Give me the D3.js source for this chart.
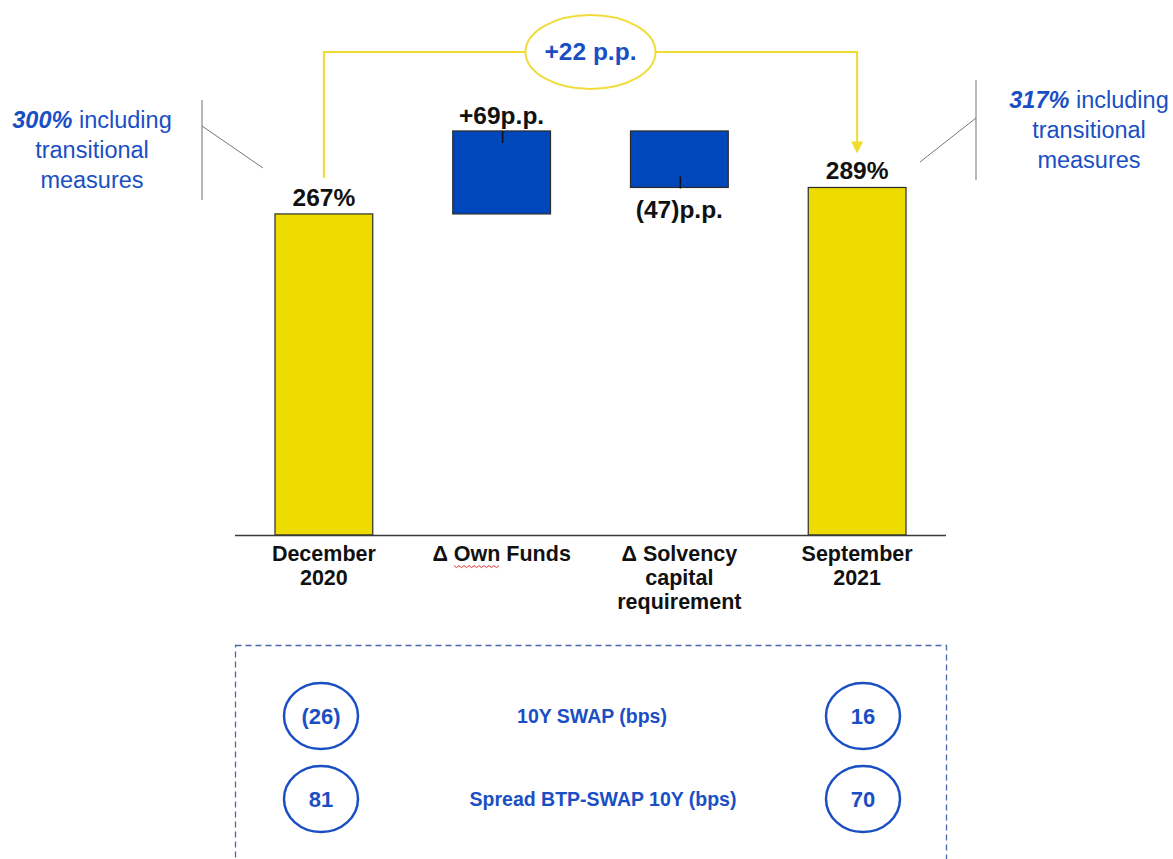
<!DOCTYPE html>
<html><head><meta charset="utf-8">
<script src="https://cdn.jsdelivr.net/npm/d3@7"></script>
<style>body{margin:0;background:#fff}svg{display:block}</style>
</head><body>
<script>
// ---- data ----
const categories = [["December","2020"],["\u0394 Own Funds"],["\u0394 Solvency","capital","requirement"],["September","2021"]];
const values = [267, 69, -47, 289];
const kinds = ["total","delta","delta","total"];
const barLabels = ["267%","+69p.p.","(47)p.p.","289%"];
const changeLabel = "+22 p.p.";
const leftNote = {bold:"300%", rest:" including", lines:["transitional","measures"]};
const rightNote = {bold:"317%", rest:" including", lines:["transitional","measures"]};
const marketRows = ["10Y SWAP (bps)","Spread BTP-SWAP 10Y (bps)"];
const marketStart = ["(26)","81"];
const marketEnd = ["16","70"];

const W=1173,H=859;
const BLUE_TXT="#1a4fc4", YELLOW="#eedc00", BAR_BLUE="#0047bb";
const FONT="Liberation Sans, Arial, sans-serif";
const svg=d3.select("body").append("svg").attr("width",W).attr("height",H);

const x=d3.scaleBand().domain(d3.range(categories.length)).range([235,946]).paddingInner(0.45).paddingOuter(0.225);
const y=d3.scaleLinear().domain([0,400]).range([535,54]);

// waterfall
let run=0;
const bars=values.map((v,i)=>{
  let a,b;
  if(kinds[i]==="total"){a=0;b=v;run=v;}
  else {a=run;b=run+v;run=b;}
  return {i,v,lo:Math.min(a,b),hi:Math.max(a,b),kind:kinds[i]};
});

svg.selectAll("rect.bar").data(bars).join("rect").attr("class","bar")
  .attr("x",d=>x(d.i)).attr("width",x.bandwidth())
  .attr("y",d=>y(d.hi)).attr("height",d=>y(d.lo)-y(d.hi))
  .attr("fill",d=>d.kind==="total"?YELLOW:BAR_BLUE)
  .attr("stroke","#2b2b2b").attr("stroke-width",1.2);

// baseline
svg.append("line").attr("x1",235).attr("x2",946).attr("y1",y(0)+0.5).attr("y2",y(0)+0.5)
  .attr("stroke","#3a3a3a").attr("stroke-width",1.5);

// bar labels
const cx=i=>x(i)+x.bandwidth()/2;
bars.forEach(d=>{
  let ty, tick=null;
  if(d.kind==="total"){ty=y(d.hi)-8;}
  else if(d.v>0){ty=y(d.hi)-7; tick=[y(d.hi),y(d.hi)+12];}
  else {ty=y(d.lo)+31; tick=[y(d.lo)-11,y(d.lo)+1];}
  svg.append("text").attr("x",cx(d.i)).attr("y",ty).attr("text-anchor","middle")
    .attr("font-family",FONT).attr("font-weight","bold").attr("font-size",24.5)
    .attr("fill","#111").text(barLabels[d.i]);
  if(tick) svg.append("line").attr("x1",cx(d.i)+1).attr("x2",cx(d.i)+1).attr("y1",tick[0]).attr("y2",tick[1])
    .attr("stroke","#111").attr("stroke-width",1.5);
});

// category labels
categories.forEach((lines,i)=>{
  const t=svg.append("text").attr("text-anchor","middle")
    .attr("font-family",FONT).attr("font-weight","bold").attr("font-size",21.5).attr("fill","#111");
  lines.forEach((l,k)=>t.append("tspan").attr("x",cx(i)).attr("y",561+k*24).text(l));
});
// spell-check squiggle under "Own"
{
  const pts=[];for(let xx=454,k=0;xx<=501;xx+=2.5,k++)pts.push([xx,566+(k%2?1.6:-0.4)]);
  svg.append("path").attr("d",d3.line()(pts)).attr("fill","none").attr("stroke","#e03030").attr("stroke-width",1);
}

// connector
const topY=52;
svg.append("path").attr("d",`M${cx(0)},${y(values[0])-36} V${topY} H${cx(3)} V${y(values[3])-45}`)
  .attr("fill","none").attr("stroke","#f0dc2c").attr("stroke-width",2);
svg.append("path").attr("d",`M${cx(3)-6},${y(values[3])-46} L${cx(3)+6},${y(values[3])-46} L${cx(3)},${y(values[3])-34} Z`)
  .attr("fill","#f0dc2c");
const ecx=(cx(1)+cx(2))/2;
svg.append("ellipse").attr("cx",ecx).attr("cy",topY).attr("rx",65).attr("ry",37)
  .attr("fill","#fff").attr("stroke","#f0dc3c").attr("stroke-width",2);
svg.append("text").attr("x",ecx).attr("y",topY+8).attr("text-anchor","middle")
  .attr("font-family",FONT).attr("font-weight","bold").attr("font-size",24.5)
  .attr("fill",BLUE_TXT).text(changeLabel);

// side notes
function note(n,tx,ty){
  const t=svg.append("text").attr("text-anchor","middle").attr("font-family",FONT)
    .attr("font-size",23.5).attr("fill",BLUE_TXT);
  const t1=t.append("tspan").attr("x",tx).attr("y",ty);
  t1.append("tspan").attr("font-weight","bold").attr("font-style","italic").text(n.bold);
  t1.append("tspan").text(n.rest);
  n.lines.forEach((l,k)=>t.append("tspan").attr("x",tx).attr("y",ty+30*(k+1)).text(l));
}
note(leftNote,92,128);
note(rightNote,1089,108);
svg.append("line").attr("x1",202).attr("x2",202).attr("y1",100).attr("y2",200).attr("stroke","#888").attr("stroke-width",1.2);
svg.append("line").attr("x1",202).attr("x2",263).attr("y1",126).attr("y2",168).attr("stroke","#777").attr("stroke-width",1);
svg.append("line").attr("x1",976).attr("x2",976).attr("y1",80).attr("y2",180).attr("stroke","#888").attr("stroke-width",1.2);
svg.append("line").attr("x1",976).attr("x2",920).attr("y1",118).attr("y2",162).attr("stroke","#777").attr("stroke-width",1);

// market box
svg.append("rect").attr("x",235.5).attr("y",645.5).attr("width",711).attr("height",260)
  .attr("fill","none").attr("stroke","#4a69a8").attr("stroke-width",1.3).attr("stroke-dasharray","6,4");
const rowY=[716,799];
marketRows.forEach((r,k)=>{
  [[321,marketStart[k]],[863,marketEnd[k]]].forEach(([ex,val])=>{
    svg.append("ellipse").attr("cx",ex).attr("cy",rowY[k]).attr("rx",37).attr("ry",33)
      .attr("fill","#fff").attr("stroke","#1a4fc4").attr("stroke-width",2.5);
    svg.append("text").attr("x",ex).attr("y",rowY[k]+8).attr("text-anchor","middle")
      .attr("font-family",FONT).attr("font-weight","bold").attr("font-size",22)
      .attr("fill",BLUE_TXT).text(val);
  });
  svg.append("text").attr("x",k===0?592:603).attr("y",rowY[k]+7).attr("text-anchor","middle")
    .attr("font-family",FONT).attr("font-weight","bold").attr("font-size",19.5)
    .attr("fill",BLUE_TXT).text(r);
});
</script>
</body></html>
